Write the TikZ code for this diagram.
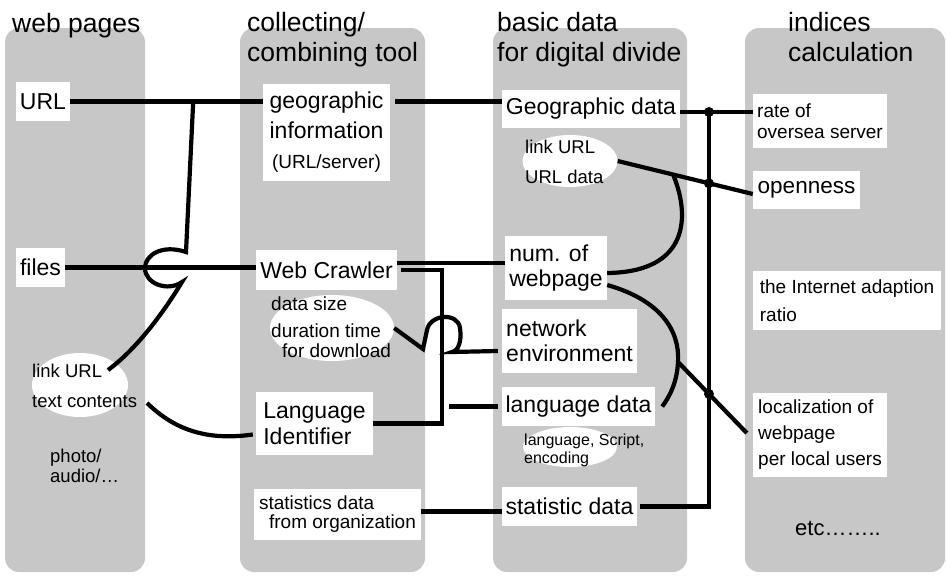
\documentclass[tikz,border=0pt]{standalone}
\usepackage{fontspec}
\setmainfont{Liberation Sans}
\usepackage{tikz}
\usetikzlibrary{shapes.geometric,calc}
\definecolor{ColGray}{RGB}{199,199,199}

\begin{document}
\begin{tikzpicture}[x=1pt,y=-1pt,
    col/.style={fill=ColGray, rounded corners=14pt},
    hdr/.style={align=left, inner sep=0pt, font=\fontsize{26.5}{30}\selectfont},
    box/.style={fill=white, inner sep=0pt, align=left, font=\fontsize{23}{26}\selectfont},
    sbox/.style={box, font=\fontsize{19}{21}\selectfont},
    oval/.style={ellipse, fill=white, inner sep=0pt},
    otext/.style={align=left, inner sep=0pt, anchor=west, font=\fontsize{18.5}{30}\selectfont},
    wire/.style={line width=4.2pt, black}]
\useasboundingbox (0,0) rectangle (947,576);

% columns
\fill[col] (5,28) rectangle (145,572);
\fill[col] (240,28) rectangle (425,572);
\fill[col] (493,28) rectangle (687,572);
\fill[col] (745,28) rectangle (945,572);

\node[hdr, anchor=base west] (hWeb) at (12,32) {web pages};
\node[hdr, anchor=west] (hTool) at (247,40) {collecting/\\combining tool};
\node[hdr, anchor=west] (hData) at (497,40) {basic data\\for digital divide};
\node[hdr, anchor=west] (hIdx) at (788,37.5) {indices\\calculation};

% web pages
\node[box, minimum width=54pt, minimum height=39pt] (url) at (43,101.5) {URL};
\node[box, minimum width=49pt, minimum height=39pt] (files) at (40.5,267.5) {files};
\node[oval, minimum width=96pt, minimum height=64pt] (lnkW) at (80,385) {};
\node[otext] (lnkWt) at (32,386) {link URL\\text contents};
\node[otext, font=\fontsize{18.5}{20}\selectfont] (media) at (50,466) {photo/\\audio/…};

% collecting tool
\node[box, align=center, minimum width=127pt, minimum height=97pt, font=\fontsize{23}{30}\selectfont] (geo) at (326.5,132.5) {geographic\\information\\{\fontsize{19}{21}\selectfont(URL/server)}};
\node[box, minimum width=141pt, minimum height=40pt] (crawl) at (326.5,270) {Web Crawler};
\node[oval, minimum width=124pt, minimum height=66pt] (dsE) at (332,328) {};
\node[otext, font=\fontsize{19}{27}\selectfont] (dsEt) at (271,327) {data size\\duration time\\[-7pt]\hspace*{11pt}for download};
\node[box, minimum width=117pt, minimum height=63pt] (langid) at (314.5,423.5) {Language\\Identifier};
\node[sbox, font=\fontsize{19}{19}\selectfont, minimum width=167pt, minimum height=51pt] (sorg) at (337.5,514.5) {statistics data\\\hspace*{10pt}from organization};

% basic data
\node[box, minimum width=178pt, minimum height=38pt] (gdata) at (591,109) {Geographic data};
\node[oval, minimum width=95pt, minimum height=52pt] (lkE) at (570,161) {};
\node[otext] (lkEt) at (525,162) {link URL\\URL data};
\node[box, font=\fontsize{23}{25}\selectfont, minimum width=102pt, minimum height=64pt] (num) at (556,268) {num. of\\webpage};
\node[box, font=\fontsize{23}{25}\selectfont, minimum width=135pt, minimum height=64pt] (net) at (569.5,341) {network\\environment};
\node[box, minimum width=153pt, minimum height=39pt] (ldata) at (578.5,406.5) {language data};
\node[oval, minimum width=94pt, minimum height=40pt] (lsE) at (570,447) {};
\node[otext, font=\fontsize{16}{18}\selectfont] (lsEt) at (524,450) {language, Script,\\encoding};
\node[box, minimum width=135pt, minimum height=39pt] (sdata) at (569.5,506.5) {statistic data};

% indices
\node[sbox, minimum width=134pt, minimum height=54pt] (rate) at (820,121) {rate of\\oversea server};
\node[box, font=\fontsize{22.5}{26}\selectfont, minimum width=107pt, minimum height=38pt] (open) at (806.5,190) {openness};
\node[sbox, font=\fontsize{19}{28}\selectfont, minimum width=188pt, minimum height=59pt] (adapt) at (847,300.5) {the Internet adaption\\ratio};
\node[sbox, font=\fontsize{19}{26}\selectfont, minimum width=134pt, minimum height=84pt] (loc) at (820,435) {localization of\\webpage\\per local users};
\node[font=\fontsize{22}{26}\selectfont] (etc) at (838,528) {etc……..};

% wires, left half
\coordinate (jUrl) at ($(url.east)+(123,0)$);
\coordinate (cBar) at (442,270);
\coordinate (lGap) at (449,0);
\draw[wire] (url.east) -- (url.east -| geo.west);
\draw[wire] (jUrl) -- (186,252) .. controls (162,244) and (145,255) .. (145,268)
    .. controls (145,284) and (168,292) .. (182,282)
    .. controls (165,310) and (138,348) .. ($(lnkW.center)+(28,-15)$);
\draw[wire] (files.east) -- (files.east -| crawl.west);
\draw[wire] ($(lnkW.center)+(67,18)$) .. controls (170,425) and (200,442) .. ($(langid.west)+(-3,11)$);
\draw[wire] ($(url.east -| geo.east)+(5,0)$) -- (url.east -| gdata.west);
\draw[wire] ([yshift=7pt]crawl.east) -- ([yshift=7pt]crawl.east -| num.west);
\draw[wire] ([xshift=4pt]crawl.east) -- (crawl.east -| cBar) -- (langid.east -| cBar) -- (langid.east);
\draw[wire] (ldata.west -| lGap) -- ([xshift=-4pt]ldata.west);
\draw[wire] (dsE.east) -- (423,349) -- (427,330) .. controls (430,314) and (458,312) .. (460,328)
    .. controls (462,342) and (458,351) .. (452,352) -- ([xshift=-4pt,yshift=-10pt]net.west);
\draw[wire] ([yshift=3pt]sorg.east) -- ([yshift=3pt]sorg.east -| sdata.west);

% wires, right half
\coordinate (bus) at (709,0);
\draw[wire] ([yshift=-3pt]gdata.east) -- ([yshift=-3pt]gdata.east -| rate.west);
\draw[wire] ([xshift=3pt]sdata.east) -- (sdata.east -| bus) -- ([yshift=-3pt]gdata.east -| bus);
\fill ([yshift=-3pt]gdata.east -| bus) circle (5);
\draw[wire] (lkE.east) -- coordinate[pos=0.41] (jLk) coordinate[pos=0.675] (dLk) ([yshift=-4pt]open.west);
\fill (dLk) circle (5);
\draw[wire] (jLk) .. controls (690,215) and (690,272) .. ([yshift=-5pt]num.east);
\draw[wire] ([yshift=-17pt]num.east) .. controls (660,300) and (680,330) .. (678,362) coordinate (jLoc)
    .. controls (677,382) and (670,396) .. ([xshift=7pt]ldata.east);
\draw[wire] (jLoc) -- coordinate[pos=0.45] (dLoc) ([xshift=-6pt,yshift=2pt]loc.west);
\fill (dLoc) circle (5);

\end{tikzpicture}
\end{document}
